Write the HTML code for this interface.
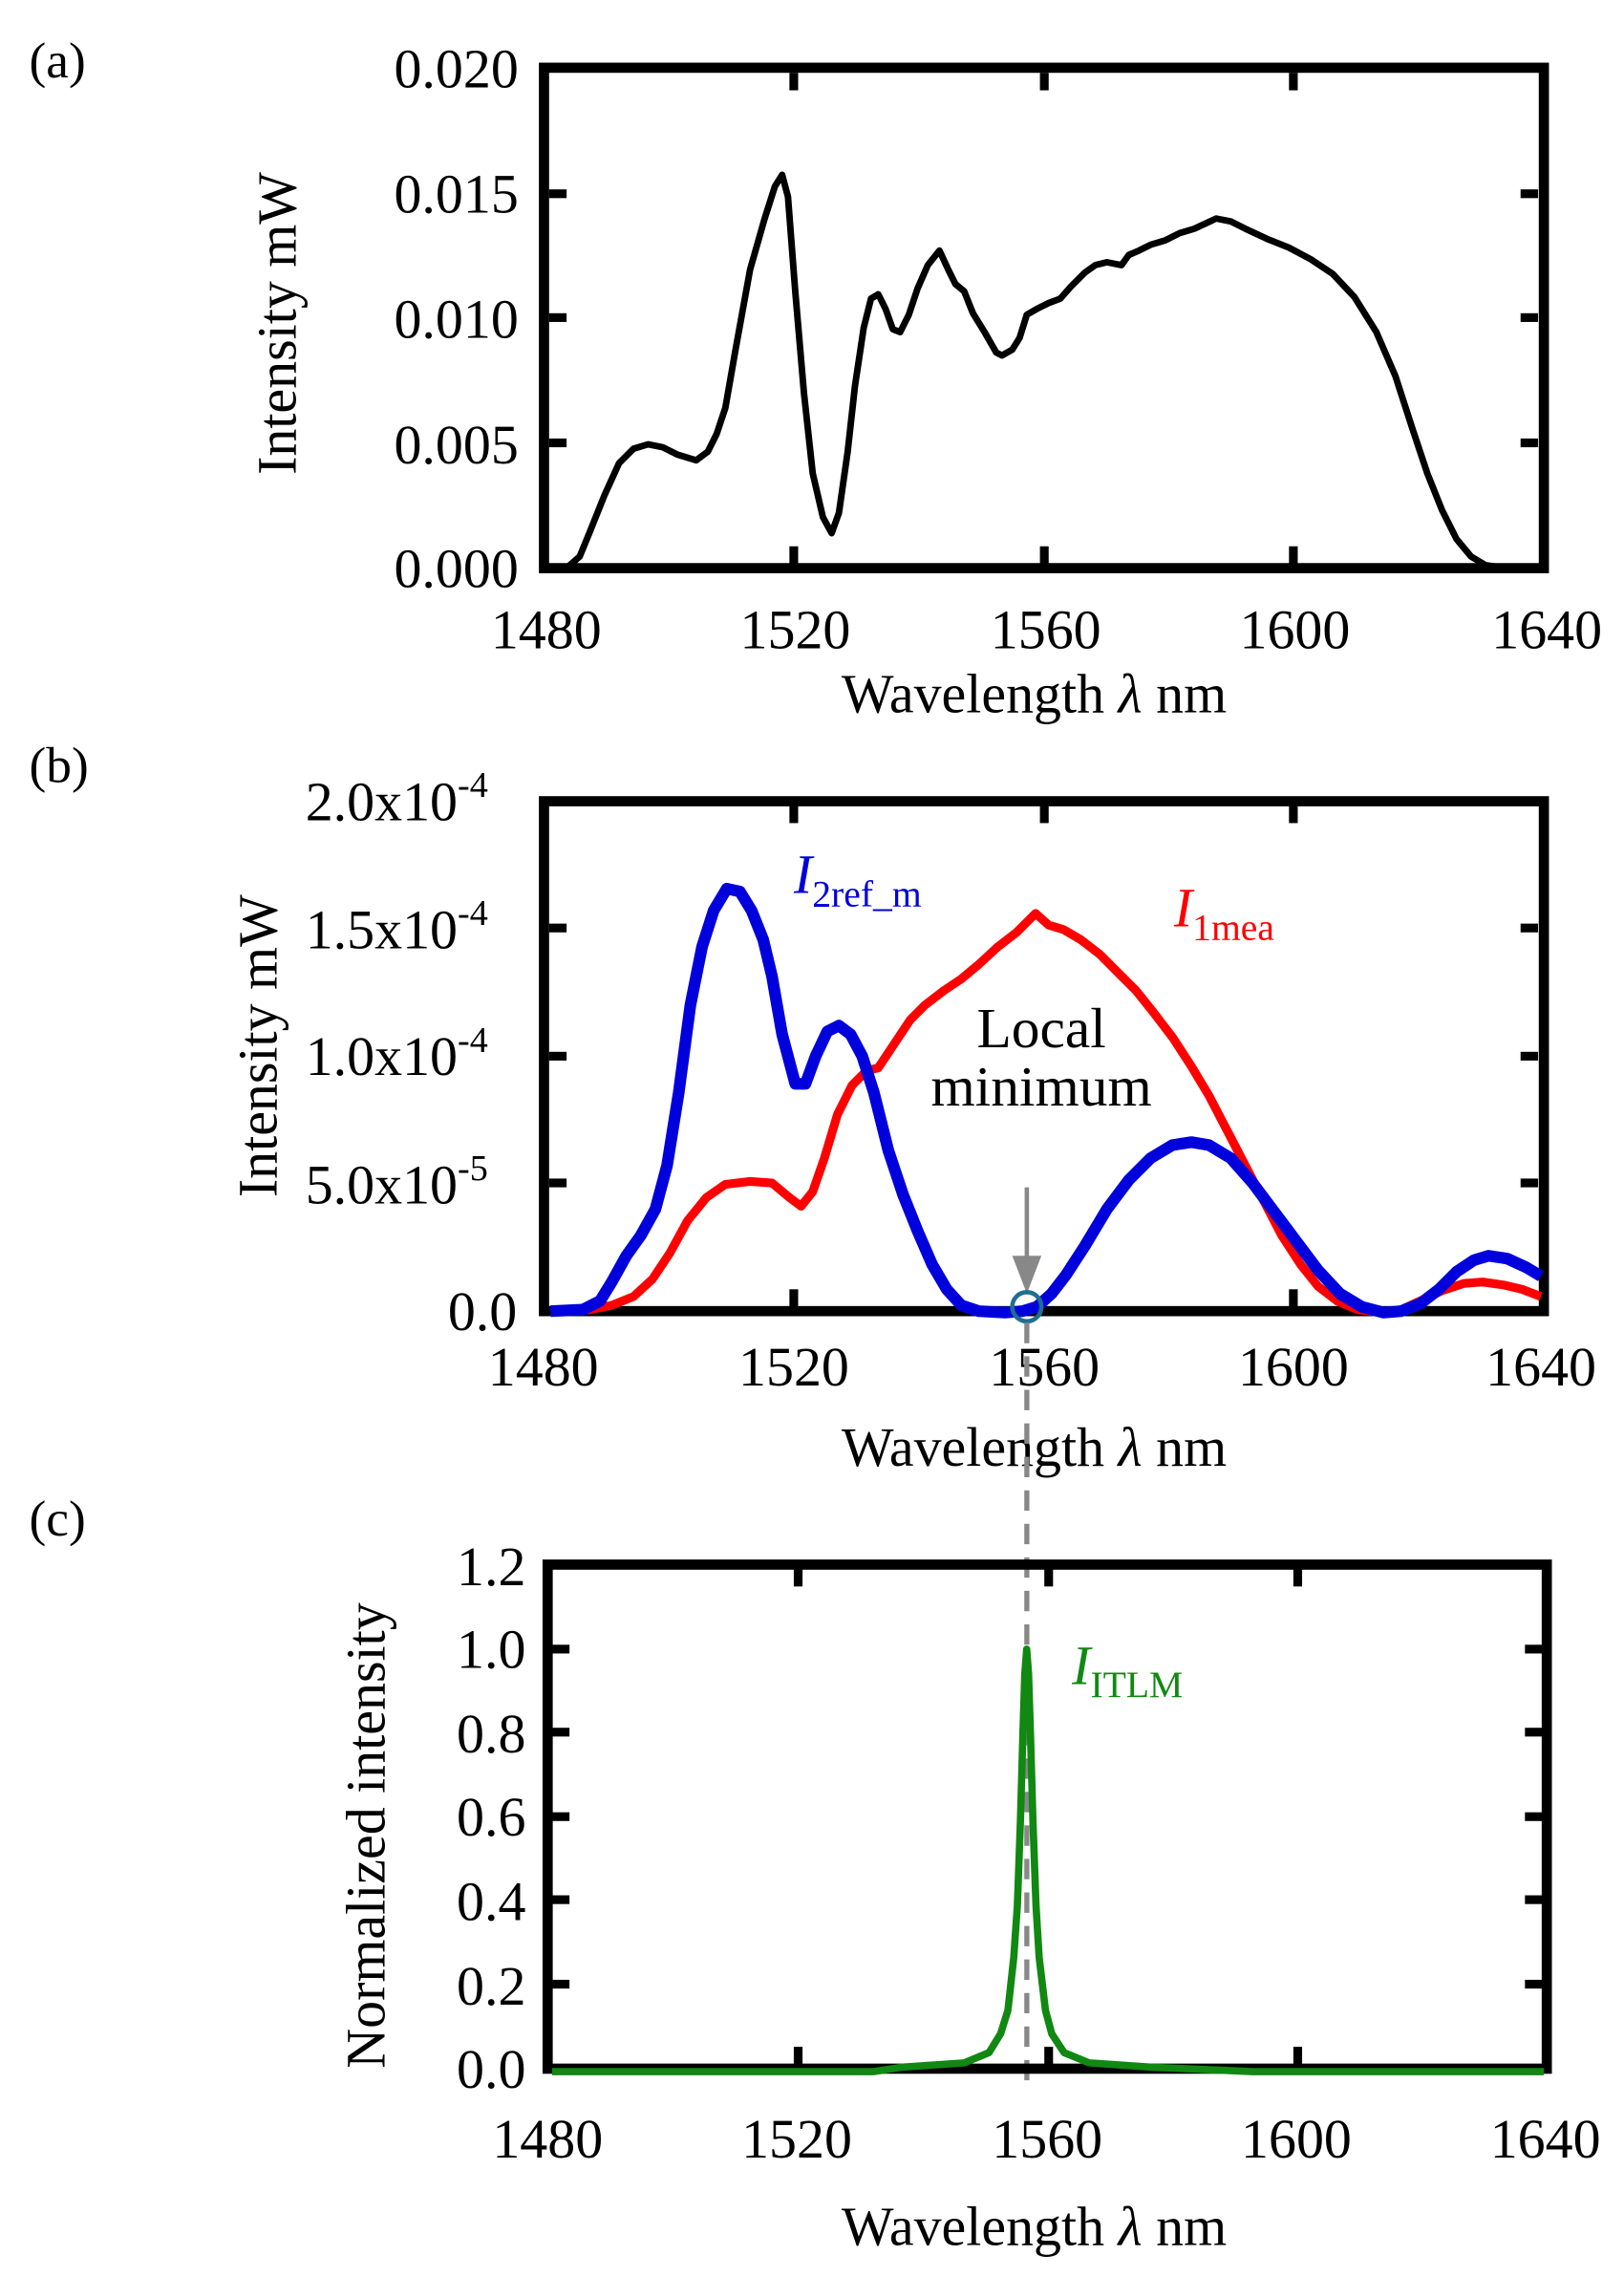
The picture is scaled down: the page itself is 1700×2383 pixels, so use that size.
<!DOCTYPE html>
<html><head><meta charset="utf-8"><style>
html,body{margin:0;padding:0;background:#fff}
svg{display:block}
text{font-family:"Liberation Serif",serif;fill:#000}
</style></head><body>
<svg width="1700" height="2383" viewBox="0 0 1115 1563" xmlns="http://www.w3.org/2000/svg">
<!-- Panel labels -->
<text x="20" y="53" font-size="35">(a)</text>
<text x="20" y="537" font-size="35">(b)</text>
<text x="20" y="1054" font-size="35">(c)</text>

<!-- ========== Panel A ========== -->
<g>
<rect x="373.5" y="46.5" width="686.5" height="343.5" fill="none" stroke="#000" stroke-width="7"/>
<g fill="#000">
<rect x="542" y="50" width="6" height="12"/><rect x="714" y="50" width="6" height="12"/><rect x="885" y="50" width="6" height="12"/>
<rect x="542" y="375" width="6" height="12"/><rect x="714" y="375" width="6" height="12"/><rect x="885" y="375" width="6" height="12"/>
<rect x="377" y="130" width="12" height="6"/><rect x="377" y="215" width="12" height="6"/><rect x="377" y="301" width="12" height="6"/>
<rect x="1044" y="130" width="12" height="6"/><rect x="1044" y="215" width="12" height="6"/><rect x="1044" y="301" width="12" height="6"/>
</g>
<g font-size="38" text-anchor="end">
<text x="356" y="60">0.020</text><text x="356" y="146">0.015</text><text x="356" y="232">0.010</text><text x="356" y="318">0.005</text><text x="356" y="403">0.000</text>
</g>
<g font-size="38" text-anchor="middle">
<text x="375" y="445">1480</text><text x="546" y="445">1520</text><text x="718" y="445">1560</text><text x="889" y="445">1600</text><text x="1062" y="445">1640</text>
</g>
<text x="710" y="489" font-size="38" text-anchor="middle">Wavelength <tspan font-style="italic">λ</tspan>  nm</text>
<text transform="translate(203,222) rotate(-90)" font-size="38" text-anchor="middle">Intensity  mW</text>
<polyline fill="none" stroke="#000" stroke-width="4.5" stroke-linejoin="round" points="380,390 390,389 398,382 405,365 415,340 425,318 435,308 445,305 455,307 465,312 478,316 486,310 492,298 498,280 505,240 515,185 525,150 532,128 537,120 541,135 546,200 552,270 558,325 565,355 571,366 576,352 582,310 587,265 593,225 598,205 603,202 608,212 613,226 618,228 624,216 630,198 637,182 645,172 651,185 656,195 662,200 668,215 676,228 684,242 688,244 695,240 700,232 705,216 712,212 720,208 728,205 735,197 745,187 752,182 760,180 770,182 775,175 782,172 790,168 800,165 810,160 820,157 835,150 845,152 855,157 870,164 885,170 900,178 915,188 930,204 945,228 958,258 970,295 980,325 990,350 1000,370 1010,382 1020,388 1035,390"/>
</g>

<!-- ========== Panel B ========== -->
<g>
<rect x="373.5" y="550" width="686.5" height="350" fill="none" stroke="#000" stroke-width="7"/>
<g fill="#000">
<rect x="542" y="553" width="6" height="12"/><rect x="714" y="553" width="6" height="12"/><rect x="885" y="553" width="6" height="12"/>
<rect x="542" y="885" width="6" height="12"/><rect x="885" y="885" width="6" height="12"/>
<rect x="377" y="634" width="12" height="6"/><rect x="377" y="722" width="12" height="6"/><rect x="377" y="809" width="12" height="6"/>
<rect x="1044" y="634" width="12" height="6"/><rect x="1044" y="722" width="12" height="6"/><rect x="1044" y="809" width="12" height="6"/>
</g>
<g font-size="38" text-anchor="end">
<text x="335" y="563">2.0x10<tspan font-size="25" dy="-16">-4</tspan></text>
<text x="335" y="651">1.5x10<tspan font-size="25" dy="-16">-4</tspan></text>
<text x="335" y="738">1.0x10<tspan font-size="25" dy="-16">-4</tspan></text>
<text x="335" y="826">5.0x10<tspan font-size="25" dy="-16">-5</tspan></text>
<text x="355" y="913">0.0</text>
</g>
<g font-size="38" text-anchor="middle">
<text x="373" y="951">1480</text><text x="545" y="951">1520</text><text x="717" y="951">1560</text><text x="888" y="951">1600</text><text x="1058" y="951">1640</text>
</g>
<text x="710" y="1006" font-size="38" text-anchor="middle">Wavelength <tspan font-style="italic">λ</tspan>  nm</text>
<text transform="translate(190,718) rotate(-90)" font-size="38" text-anchor="middle">Intensity  mW</text>
<polyline fill="none" stroke="#ff0000" stroke-width="6" stroke-linejoin="round" points="378,900 405,899 420,896 435,890 448,878 460,860 472,838 485,822 498,813 515,811 530,812 542,822 550,828 558,818 566,795 575,765 585,745 595,735 603,733 615,715 625,700 635,690 648,680 660,672 672,662 685,650 698,640 711,627 720,635 730,638 742,645 755,655 768,668 780,680 792,695 805,712 818,732 830,752 842,775 855,800 868,825 880,848 893,868 905,883 918,893 932,899 948,901 962,899 975,893 990,886 1005,881 1018,880 1032,882 1045,885 1058,890"/>
<polyline fill="none" stroke="#0000dd" stroke-width="8" stroke-linejoin="round" points="378,900 400,899 412,893 420,880 430,862 440,848 450,830 458,800 466,750 474,690 482,650 490,625 499,610 508,612 516,625 524,645 530,670 537,710 546,744 553,744 560,725 568,708 576,704 584,710 592,725 600,750 610,790 620,820 630,845 640,868 650,885 660,896 672,900 690,901 702,900 712,897 722,888 732,875 745,855 760,830 775,810 790,795 805,786 818,784 830,786 845,795 860,812 875,832 890,852 905,872 920,888 935,897 950,901 962,900 975,895 988,885 1000,873 1012,865 1022,862 1035,864 1048,870 1058,876"/>
<line x1="705" y1="815" x2="705" y2="870" stroke="#888" stroke-width="3"/>
<polygon points="695,862 715,862 705,888" fill="#888"/>
<circle cx="705" cy="897" r="10" fill="none" stroke="#1f6f8f" stroke-width="3"/>
<text x="715" y="719" font-size="39" text-anchor="middle">Local</text>
<text x="715" y="759" font-size="39" text-anchor="middle">minimum</text>
<text x="545" y="613" font-size="38" style="fill:#0000dd"><tspan font-style="italic">I</tspan><tspan font-size="26" dy="9">2ref_m</tspan></text>
<text x="806" y="636" font-size="38" style="fill:#ff0000"><tspan font-style="italic">I</tspan><tspan font-size="26" dy="9">1mea</tspan></text>
</g>

<!-- dashed line -->
<line x1="705" y1="908" x2="705" y2="1428" stroke="#888" stroke-width="3.5" stroke-dasharray="14,9"/>

<!-- ========== Panel C ========== -->
<g>
<rect x="376" y="1074" width="686" height="346" fill="none" stroke="#000" stroke-width="7"/>
<g fill="#000">
<rect x="545" y="1077" width="6" height="12"/><rect x="717" y="1077" width="6" height="12"/><rect x="888" y="1077" width="6" height="12"/>
<rect x="545" y="1405" width="6" height="12"/><rect x="717" y="1405" width="6" height="12"/><rect x="888" y="1405" width="6" height="12"/>
<rect x="379" y="1129" width="12" height="6"/><rect x="379" y="1186" width="12" height="6"/><rect x="379" y="1244" width="12" height="6"/><rect x="379" y="1301" width="12" height="6"/><rect x="379" y="1359" width="12" height="6"/>
<rect x="1047" y="1129" width="12" height="6"/><rect x="1047" y="1186" width="12" height="6"/><rect x="1047" y="1244" width="12" height="6"/><rect x="1047" y="1301" width="12" height="6"/><rect x="1047" y="1359" width="12" height="6"/>
</g>
<g font-size="38" text-anchor="end">
<text x="361" y="1088">1.2</text><text x="361" y="1145">1.0</text><text x="361" y="1203">0.8</text><text x="361" y="1260">0.6</text><text x="361" y="1318">0.4</text><text x="361" y="1376">0.2</text><text x="361" y="1433">0.0</text>
</g>
<g font-size="38" text-anchor="middle">
<text x="376" y="1481">1480</text><text x="547" y="1481">1520</text><text x="719" y="1481">1560</text><text x="890" y="1481">1600</text><text x="1061" y="1481">1640</text>
</g>
<text x="710" y="1541" font-size="38" text-anchor="middle">Wavelength <tspan font-style="italic">λ</tspan>  nm</text>
<text transform="translate(264,1260) rotate(-90)" font-size="38" text-anchor="middle">Normalized intensity</text>
<polyline fill="none" stroke="#118811" stroke-width="5" stroke-linejoin="round" points="379,1422 600,1422 619,1419 662,1416 679,1409 687,1396 692,1380 696,1344 698.5,1308 700.6,1250 702.3,1190 703.6,1149 704.9,1132 706.2,1149 707.5,1190 709.2,1250 711.3,1308 713.5,1344 717.8,1380 722.1,1396 730.6,1409 747.8,1416 790.7,1419 860,1422 1060,1422"/>
<text x="736" y="1156" font-size="38" style="fill:#118811"><tspan font-style="italic">I</tspan><tspan font-size="26" dy="9">ITLM</tspan></text>
</g>
</svg>
</body></html>
